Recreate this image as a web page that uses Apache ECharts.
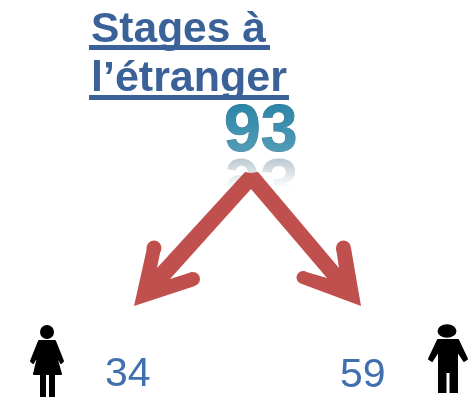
<!DOCTYPE html>
<html>
<head>
<meta charset="utf-8">
<style>
  html, body { margin: 0; padding: 0; background: #fff; }
  #chart { width: 472px; height: 400px; filter: blur(0.7px); }
</style>
<script src="https://cdn.jsdelivr.net/npm/echarts@6/dist/echarts.min.js"></script>
</head>
<body>
<div id="chart"></div>
<script>
var titleLines = ['Stages à', 'l’étranger']
var total = [93]
var counts = [34, 59]

var font = '"Liberation Sans", Arial, sans-serif'
var blue = '#3a6299'
var red = '#c0504d'
var black = { fill: '#000', stroke: '#000', lineWidth: 2, lineJoin: 'round' }

var chart = echarts.init(document.getElementById('chart'))

function text(str, x, y, size, weight, color, extra) {
  var style = Object.assign({ text: String(str), x: x, y: y, fill: color, textVerticalAlign: 'bottom',
    font: weight + ' ' + size + 'px ' + font }, extra || {})
  return { type: 'text', style: style }
}

// text fill can't take a gradient here, so white gradients are laid over the digits
var digitShade = new echarts.graphic.LinearGradient(0, 0, 0, 1, [
  { offset: 0, color: 'rgba(255,255,255,0)' }, { offset: 1, color: 'rgba(255,255,255,0.2)' }
])
var mirrorFade = new echarts.graphic.LinearGradient(0, 0, 0, 1, [
  { offset: 0, color: 'rgba(255,255,255,0.2)' }, { offset: 0.5, color: '#fff' }, { offset: 1, color: '#fff' }
])

var mirror = text(total[0], 224, 162, 66, 'bold', '#8fa9b6')
mirror.y = 306
mirror.scaleY = -1

var elements = [
  text(titleLines[0], 91, 52, 42.5, 'bold', blue),
  { type: 'rect', shape: { x: 89, y: 45, width: 181, height: 5 }, style: { fill: blue } },
  text(titleLines[1], 91, 101, 43, 'bold', blue),
  { type: 'rect', shape: { x: 89, y: 95, width: 200, height: 5 }, style: { fill: blue } },

  // reflection first, arrows sit on top of it
  mirror,
  { type: 'rect', shape: { x: 215, y: 150, width: 95, height: 76 }, style: { fill: mirrorFade } },
  text(total[0], 224, 166, 66, 'bold', '#2c86a8', { stroke: '#25708c', lineWidth: 1 }),
  { type: 'rect', shape: { x: 220, y: 105, width: 85, height: 52 }, style: { fill: digitShade } },

  // arrows
  { type: 'polygon', shape: { points: [[245, 172], [251, 173], [258, 172], [339, 268], [336, 248], [351, 248],
    [361, 306], [302, 284], [303, 271], [327, 278], [251, 189], [170, 279], [192, 272], [195, 286],
    [134, 306], [147, 248], [161, 248], [157, 268]] }, style: { fill: red } },
  { type: 'circle', shape: { cx: 154, cy: 248, r: 7.5 }, style: { fill: red } },
  { type: 'circle', shape: { cx: 193, cy: 279, r: 7 }, style: { fill: red } },
  { type: 'circle', shape: { cx: 343.5, cy: 248, r: 7.5 }, style: { fill: red } },
  { type: 'circle', shape: { cx: 303, cy: 277.5, r: 6.5 }, style: { fill: red } },

  text(counts[0], 105, 395, 41, 'normal', '#3f6fae'),
  text(counts[1], 340, 396, 41, 'normal', '#3f6fae'),

  // woman
  { type: 'circle', shape: { cx: 47, cy: 332, r: 7 }, style: { fill: '#000' } },
  { type: 'polygon', shape: { points: [[39, 341], [55, 341], [63, 361], [61, 363], [55, 353], [61, 374], [34, 374], [39, 353], [33, 363], [31, 361]] }, style: black },
  { type: 'rect', shape: { x: 40, y: 372, width: 6, height: 25 }, style: { fill: '#000' } },
  { type: 'rect', shape: { x: 49, y: 372, width: 6, height: 25 }, style: { fill: '#000' } },

  // man
  { type: 'circle', scaleY: 0.72, originX: 447, originY: 331, shape: { cx: 447, cy: 331, r: 9.5 }, style: { fill: '#000' } },
  { type: 'polygon', shape: { points: [[438, 340], [458, 340], [467, 359], [464, 361], [457, 350], [457, 372], [439, 372], [439, 350], [432, 361], [429, 359]] }, style: black },
  { type: 'rect', shape: { x: 438, y: 370, width: 8.5, height: 23 }, style: { fill: '#000' } },
  { type: 'rect', shape: { x: 449.5, y: 370, width: 8.5, height: 23 }, style: { fill: '#000' } }
]

chart.setOption({
  animation: false,
  backgroundColor: '#fff',
  graphic: { elements: elements }
})
</script>
</body>
</html>
